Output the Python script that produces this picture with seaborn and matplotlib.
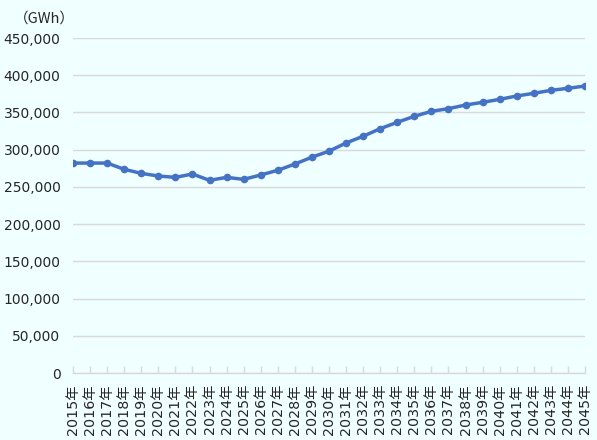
import matplotlib
matplotlib.use("Agg")
import matplotlib.pyplot as plt
import seaborn as sns
import pandas as pd
from matplotlib.ticker import FuncFormatter

years = list(range(2015, 2046))
labels = [f"{y}年" for y in years]
values = [282000, 282000, 282000, 273600, 268200, 264600, 262800, 267300, 258800,
          262800, 260100, 266000, 272300, 280700, 289900, 298000, 309000, 318000,
          328200, 336800, 344800, 351500, 355100, 360000, 363600, 367600, 372100,
          375700, 379700, 382400, 385500]
yticks = list(range(0, 450001, 50000))
unit_label = "（GWh）"

sns.set_theme(style="white")
fam = ['DejaVu Sans', 'Noto Sans CJK JP']
plt.rcParams['font.family'] = fam

bg = "#F0FFFF"
txt = "#262626"
grid = "#D9D9D9"
line_c = "#4472C4"

df = pd.DataFrame({"x": list(range(len(years))), "v": values})

fig = plt.figure(figsize=(5.97, 4.40), dpi=100, facecolor=bg)
ax = fig.add_axes([73/597, 1-373/440, (585-73)/597, (373-38)/440])
ax.set_facecolor(bg)

sns.lineplot(data=df, x="x", y="v", ax=ax, color=line_c, linewidth=2.5,
             marker="o", markersize=5.5, markeredgewidth=0, zorder=3)

ax.set_xlim(0, len(years)-1)
ax.set_ylim(0, 450000)
ax.set_yticks(yticks)
ax.yaxis.set_major_formatter(FuncFormatter(lambda v, p: f"{int(v):,}"))
ax.grid(axis="y", color=grid, linewidth=1)
ax.set_axisbelow(True)

ax.set_xticks(list(range(len(years))))
ax.set_xticklabels(labels, rotation=90)
ax.tick_params(axis="x", direction="in", length=5, color=grid, width=1,
               labelsize=10.3, labelcolor=txt, pad=8, bottom=True)
ax.tick_params(axis="y", length=0, labelsize=10, labelcolor=txt, pad=9)

for s in ["left", "right", "top"]:
    ax.spines[s].set_visible(False)
ax.spines["bottom"].set_color(grid)
ax.spines["bottom"].set_linewidth(1)

ax.set_xlabel("")
ax.set_ylabel("")
fig.text(44/597, 1-19/440, unit_label, ha="center", va="center", fontsize=10.5,
         color=txt, family=['Noto Sans CJK JP', 'DejaVu Sans'])

fig.savefig("out.png", dpi=100, facecolor=bg)
